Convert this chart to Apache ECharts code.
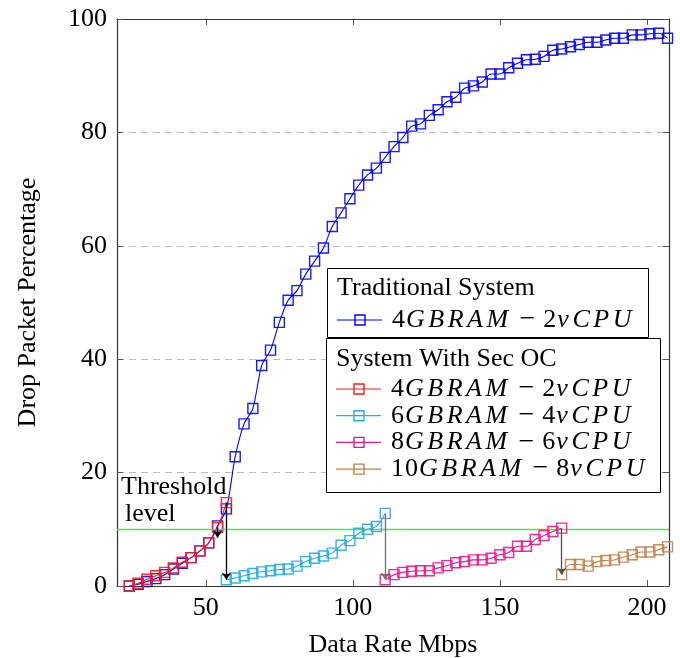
<!DOCTYPE html>
<html>
<head>
<meta charset="utf-8">
<script src="https://cdn.jsdelivr.net/npm/echarts@6/dist/echarts.min.js"></script>
<style>
  html, body { margin: 0; padding: 0; background: #fff; }
  #chart { width: 680px; height: 658px; }
</style>
</head>
<body>
<div id="chart"></div>
<script>
const FONT = '"Liberation Serif", "Times New Roman", serif';

// Traditional system, 4GB RAM / 2 vCPU
const tradX = [24,27,30,33,36,39,42,45,48,51,54,57,60,63,66,69,72,75,78,81,84,87,
  90,93,96,99,102,105,108,111,114,117,120,123,126,129,132,135,138,141,144,147,150,
  153,156,159,162,165,168,171,174,177,180,183,186,189,192,195,198,201,204,207];
const tradY = [0.0,0.3,0.8,1.3,2.0,3.0,4.0,5.0,6.2,7.6,10.6,13.6,22.8,28.6,31.3,38.9,41.6,46.5,50.4,52.1,55.0,57.3,
  59.6,63.4,65.8,68.3,70.7,72.5,73.7,75.6,77.5,79.1,81.1,81.5,83.0,84.0,85.4,86.2,87.8,88.2,88.9,90.3,90.3,
  91.4,92.2,92.8,92.9,93.4,94.5,94.7,95.1,95.5,95.9,95.9,96.3,96.6,96.6,97.2,97.2,97.4,97.5,96.6];

// System with Sec OC: one segment per resource level
const ocRamX = [24,27,30,33,36,39,42,45,48,51,54,57];
const ocRamY = [0.0,0.5,1.2,1.8,2.4,3.2,4.2,5.0,6.2,7.6,10.3,14.7];

const oc6X = [57,60,63,66,69,72,75,78,81,84,87,90,93,96,99,102,105,108,111];
const oc6Y = [1.1,1.4,1.8,2.2,2.5,2.7,2.9,3.0,3.5,4.3,4.9,5.3,5.8,7.2,8.0,9.3,10.0,10.5,12.8];

const oc8X = [111,114,117,120,123,126,129,132,135,138,141,144,147,150,153,156,159,162,165,168,171];
const oc8Y = [1.1,2.0,2.4,2.6,2.7,2.7,3.2,3.6,4.1,4.3,4.6,4.6,4.9,5.5,5.9,7.0,7.0,8.2,8.9,9.6,10.2];

const oc10X = [171,174,177,180,183,186,189,192,195,198,201,204,207];
const oc10Y = [2.0,3.8,3.8,3.5,4.3,4.5,4.6,5.1,5.5,6.0,6.0,6.4,6.9];

const threshold = 10;
// short marker where the first configuration crosses the threshold
const crossX = 54, crossFrom = 10.3, crossTo = 8.5;

const xTicks = [50, 100, 150, 200];
const yTicks = [0, 20, 40, 60, 80, 100];

const tradLabel = '4GBRAM − 2vCPU';
const ocLabels = ['4GBRAM − 2vCPU', '6GBRAM − 4vCPU', '8GBRAM − 6vCPU', '10GBRAM − 8vCPU'];

const BLUE = '#0000ff', RED = '#ff1a1a', CYAN = '#27aae1', PINK = '#e8168c', BROWN = '#c0824a';
const ocColors = [RED, CYAN, PINK, BROWN];
const ocSets = [[ocRamX, ocRamY], [oc6X, oc6Y], [oc8X, oc8Y], [oc10X, oc10Y]];

function pts(xs, ys) { return xs.map((x, i) => [x, ys[i]]); }

function curve(name, xs, ys, color, z) {
  return {
    type: 'line', name, data: pts(xs, ys), z,
    symbol: 'rect', symbolSize: 10, smooth: 0.3,
    lineStyle: { color, width: 1.1 },
    itemStyle: { color: 'rgba(255,255,255,0)', borderColor: color, borderWidth: 1.4, opacity: 0.9 },
    emphasis: { disabled: true }, silent: true
  };
}

// drop arrows: from the last point of one segment to the first of the next
const arrowColors = ['#000000', '#707070', '#505050'];
const arrowData = [];
for (let i = 0; i < ocSets.length - 1; i++) {
  const [xa, ya] = ocSets[i];
  const [xb, yb] = ocSets[i + 1];
  arrowData.push({
    coords: [[xa[xa.length - 1], ya[ya.length - 1]], [xb[0], yb[0]]],
    lineStyle: { color: arrowColors[i] }
  });
}
arrowData.push({ coords: [[crossX, crossFrom], [crossX, crossTo]], lineStyle: { color: '#000' } });

const series = [
  curve('trad', tradX, tradY, BLUE, 3),
  ...ocSets.map((s, i) => curve('oc' + i, s[0], s[1], ocColors[i], 4 + i)),
  {
    type: 'lines', coordinateSystem: 'cartesian2d', z: 10, silent: true,
    symbol: ['none', 'arrow'], symbolSize: [6, 7],
    lineStyle: { width: 1.3, opacity: 1 },
    data: arrowData
  }
];
series[0].markLine = {
  silent: true, symbol: 'none', label: { show: false },
  lineStyle: { color: '#55dd55', type: 'solid', width: 1.3 },
  data: [{ yAxis: threshold }]
};

// math-style legend text: italic letters, upright digits and operator
function mathText(s) {
  let out = '';
  for (const c of s) {
    if (c === ' ') continue;
    if (/[A-Za-z]/.test(c)) out += '{l|' + c + '}';
    else if (c === '−') out += '{m|−}';
    else out += '{d|' + c + '}';
  }
  return out;
}
const mathRich = {
  l: { fontFamily: FONT, fontSize: 26, fontStyle: 'italic', padding: [0, 3.5, 0, 0], fill: '#000', color: '#000' },
  d: { fontFamily: FONT, fontSize: 26, padding: [0, 1, 0, 0], fill: '#000', color: '#000' },
  m: { fontFamily: FONT, fontSize: 28, padding: [0, 8, 0, 8], fill: '#000', color: '#000' }
};

function legendEntry(x, y, color, label) {
  return [
    { type: 'line', shape: { x1: x, y1: y, x2: x + 45, y2: y }, style: { stroke: color, lineWidth: 1.2 }, z: 101 },
    { type: 'rect', shape: { x: x + 18, y: y - 5, width: 10, height: 10 }, style: { fill: 'rgba(255,255,255,0)', stroke: color, lineWidth: 1.4 }, z: 102 },
    { type: 'text', x: x + 55, y: y, z: 102, style: { text: mathText(label), rich: mathRich, verticalAlign: 'middle', align: 'left', fill: '#000' } }
  ];
}

const graphic = [
  // threshold annotation
  { type: 'text', x: 121, y: 487, z: 50, style: { text: 'Threshold', fontFamily: FONT, fontSize: 26, fill: '#000', verticalAlign: 'middle' } },
  { type: 'text', x: 125, y: 514, z: 50, style: { text: 'level', fontFamily: FONT, fontSize: 26, fill: '#000', verticalAlign: 'middle' } },
  // traditional system box
  { type: 'rect', shape: { x: 327.5, y: 268.5, width: 321, height: 69 }, style: { fill: '#fff', stroke: '#000', lineWidth: 1 }, z: 100 },
  { type: 'text', x: 337, y: 288, z: 101, style: { text: 'Traditional System', fontFamily: FONT, fontSize: 26, fill: '#000', verticalAlign: 'middle' } },
  ...legendEntry(337, 320, BLUE, tradLabel),
  // Sec OC box
  { type: 'rect', shape: { x: 326.5, y: 338.5, width: 334, height: 154 }, style: { fill: '#fff', stroke: '#000', lineWidth: 1 }, z: 100 },
  { type: 'text', x: 336, y: 359, z: 101, style: { text: 'System With Sec OC', fontFamily: FONT, fontSize: 26, fill: '#000', verticalAlign: 'middle' } },
  ...ocLabels.flatMap((lab, i) => legendEntry(336, 389 + i * 26.7, ocColors[i], lab))
];

const axisLineStyle = { color: '#333', width: 1.2 };
const tickStyle = { color: '#555', width: 1 };

const option = {
  animation: false,
  backgroundColor: '#fff',
  grid: { left: 117, right: 11, top: 19, bottom: 72, containLabel: false, outerBoundsMode: 'none' },
  xAxis: [
    {
      type: 'value', position: 'bottom', min: 19.8, max: 207.5,
      axisLine: { onZero: false, lineStyle: axisLineStyle },
      axisTick: { inside: true, length: 6, customValues: xTicks, lineStyle: tickStyle },
      axisLabel: { customValues: xTicks, fontFamily: FONT, fontSize: 26, color: '#000', margin: 9 },
      splitLine: { show: false },
      name: 'Data Rate Mbps', nameLocation: 'middle', nameGap: 46,
      nameTextStyle: { fontFamily: FONT, fontSize: 26, color: '#000' }
    },
    {
      type: 'value', position: 'top', min: 19.8, max: 207.5,
      axisLine: { onZero: false, lineStyle: axisLineStyle },
      axisTick: { inside: true, length: 6, customValues: xTicks, lineStyle: tickStyle },
      axisLabel: { show: false }, splitLine: { show: false }
    }
  ],
  yAxis: [
    {
      type: 'value', position: 'left', min: 0, max: 100, interval: 20,
      axisLine: { show: true, onZero: false, lineStyle: axisLineStyle },
      axisTick: { show: true, inside: true, length: 6, lineStyle: tickStyle },
      axisLabel: { fontFamily: FONT, fontSize: 26, color: '#000', margin: 10, customValues: yTicks },
      splitLine: { show: true, lineStyle: { color: '#bbbbbb', type: [7, 5], width: 1 } },
      name: 'Drop Packet Percentage', nameLocation: 'middle', nameGap: 76, nameRotate: 90,
      nameTextStyle: { fontFamily: FONT, fontSize: 26, color: '#000' }
    },
    {
      type: 'value', position: 'right', min: 0, max: 100, interval: 20,
      axisLine: { show: true, onZero: false, lineStyle: axisLineStyle },
      axisTick: { show: true, inside: true, length: 6, lineStyle: tickStyle },
      axisLabel: { show: false }, splitLine: { show: false }
    }
  ],
  series,
  graphic
};

const chart = echarts.init(document.getElementById('chart'), null, { renderer: 'canvas' });
chart.setOption(option);
</script>
</body>
</html>
